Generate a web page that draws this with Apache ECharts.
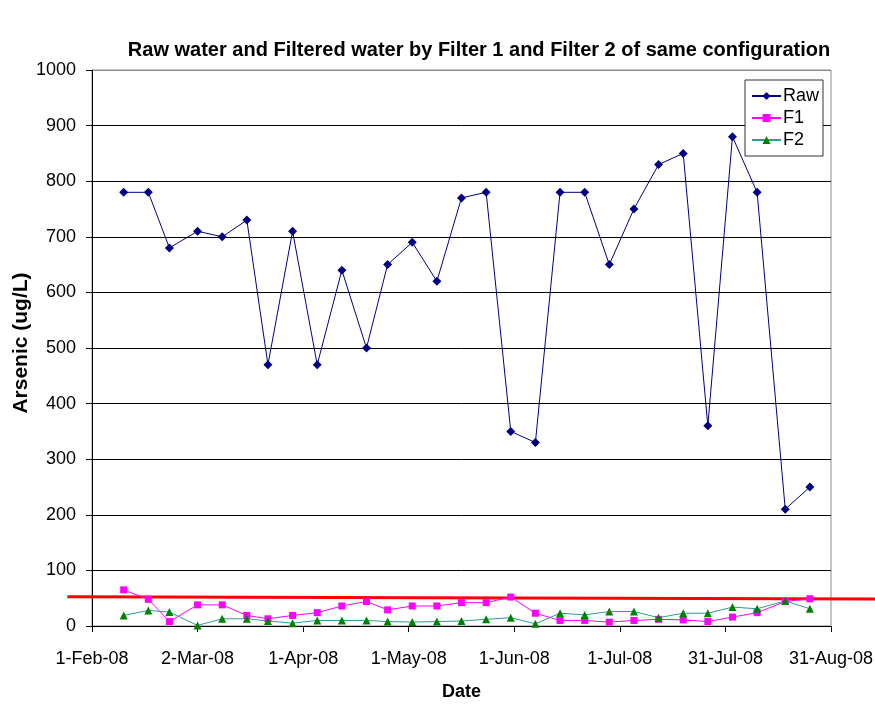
<!DOCTYPE html>
<html>
<head>
<meta charset="utf-8">
<script src="https://cdn.jsdelivr.net/npm/echarts@6/dist/echarts.min.js"></script>
<style>html,body{margin:0;padding:0;background:#fff}#c{width:875px;height:707px}</style>
</head>
<body>
<div id="c"></div>
<script>
// days since 1-Feb-08 for each sample
const sampleDays = [9,16,22,30,37,44,50,57,64,71,78,84,91,98,105,112,119,126,133,140,147,154,161,168,175,182,189,197,204];
const rawValues = [780,780,680,710,700,730,470,710,470,640,500,650,690,620,770,780,350,330,780,780,650,750,830,850,360,880,780,210,250];
const f1Values  = [65,48,8,38,38,19,13,19,24,36,44,29,36,36,42,42,52,23,10,10,7,10,12,11,8,16,24,44,49];
const f2Values  = [19,28,25,1,13,13,9,5,10,10,10,8,7,8,9,12,15,4,23,20,26,26,15,23,23,34,31,45,31];
const xTickLabels = ['1-Feb-08','2-Mar-08','1-Apr-08','1-May-08','1-Jun-08','1-Jul-08','31-Jul-08','31-Aug-08'];
const yTickValues = [0,100,200,300,400,500,600,700,800,900,1000];
// hand-drawn red limit line: [day, value] end points (extends beyond the plot)
const limitLine = [[-7, 52.7], [222.5, 48.5]];

const pair = vals => sampleDays.map((d, i) => [d, vals[i]]);
const font = 'Liberation Sans, Arial, sans-serif';

const chart = echarts.init(document.getElementById('c'), null, {renderer: 'canvas'});
chart.setOption({
  animation: false,
  backgroundColor: '#fff',
  title: {
    text: 'Raw water and Filtered water by Filter 1 and Filter 2 of same configuration',
    left: 474, top: 35, textAlign: 'center',
    textStyle: {fontFamily: font, fontSize: 20, fontWeight: 'bold', color: '#000'}
  },
  grid: {left: 92, right: 44, top: 70, bottom: 81, outerBoundsMode: 'none', containLabel: false,
    show: true, borderColor: '#8c8c8c', borderWidth: 1},
  legend: {
    data: ['Raw', 'F1', 'F2'],
    orient: 'vertical', left: 745, top: 80,
    backgroundColor: '#fff', borderColor: '#333', borderWidth: 1,
    padding: [7, 4, 7, 6], itemGap: 4, itemWidth: 29, itemHeight: 10,
    textStyle: {fontFamily: font, fontSize: 18, color: '#000', padding: [0, 0, 0, -3]}
  },
  xAxis: {
    type: 'value', min: 0, max: 210, interval: 30,
    name: 'Date', nameLocation: 'middle', nameGap: 57, nameMoveOverlap: false,
    nameTextStyle: {fontFamily: font, fontSize: 18, fontWeight: 'bold', color: '#000'},
    axisLine: {show: true, lineStyle: {color: '#000', width: 1}},
    axisTick: {show: true, length: 6, lineStyle: {color: '#000'}},
    axisLabel: {margin: 24, fontFamily: font, fontSize: 18, color: '#000',
      formatter: v => xTickLabels[Math.round(v / 30)] || ''},
    splitLine: {show: false}
  },
  yAxis: {
    type: 'value', min: 0, max: 1000, interval: 100,
    name: 'Arsenic (ug/L)', nameLocation: 'middle', nameGap: 60, nameRotate: 90, nameMoveOverlap: false,
    nameTextStyle: {fontFamily: font, fontSize: 21, fontWeight: 'bold', color: '#000', padding: [0, 0, 0, 10]},
    axisLine: {show: true, lineStyle: {color: '#000', width: 1}},
    axisTick: {show: true, length: 6, lineStyle: {color: '#000'}},
    axisLabel: {margin: 16, fontFamily: font, fontSize: 18, color: '#000',
      formatter: v => yTickValues.includes(v) ? String(v) : ''},
    splitLine: {show: true, lineStyle: {color: ['#000','#000','#000','#000','#000','#000','#000','#000','#000','#000','#8c8c8c'], width: 1}}
  },
  series: [
    {
      name: 'Raw', type: 'line', data: pair(rawValues), z: 3,
      symbol: 'diamond', symbolSize: 9,
      itemStyle: {color: '#000080'},
      lineStyle: {color: '#000080', width: 1}
    },
    {
      name: 'F1', type: 'line', data: pair(f1Values), z: 3,
      symbol: 'rect', symbolSize: 7,
      itemStyle: {color: '#ff00ff'},
      lineStyle: {color: '#ff00ff', width: 1}
    },
    {
      name: 'F2', type: 'line', data: pair(f2Values), z: 3,
      symbol: 'triangle', symbolSize: 8,
      itemStyle: {color: '#008000'},
      lineStyle: {color: '#339999', width: 1}
    }
  ]
});

// red limit line drawn through the chart's own scales, allowed to extend past the plot
const p1 = chart.convertToPixel({gridIndex: 0}, limitLine[0]);
const p2 = chart.convertToPixel({gridIndex: 0}, limitLine[1]);
chart.setOption({
  graphic: [{
    type: 'line', z: 2, silent: true,
    shape: {x1: p1[0], y1: p1[1], x2: p2[0], y2: p2[1]},
    style: {stroke: '#ff0000', lineWidth: 3}
  }]
});
</script>
</body>
</html>
